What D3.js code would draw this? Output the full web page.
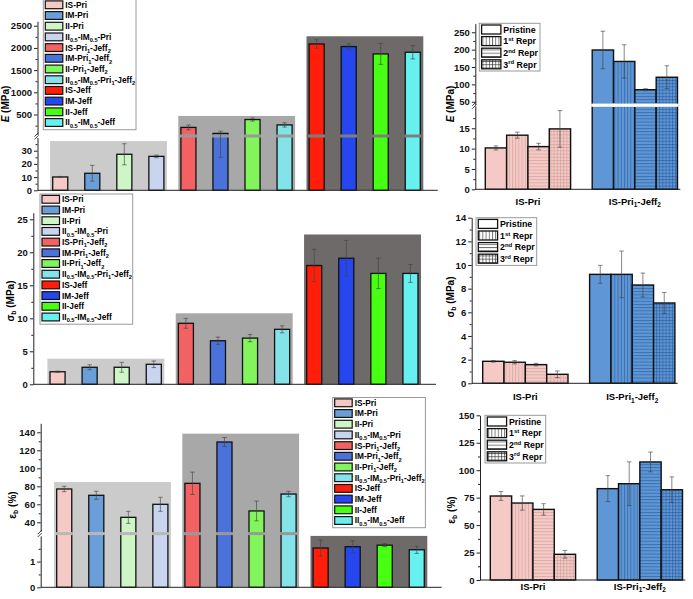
<!DOCTYPE html>
<html>
<head>
<meta charset="utf-8">
<script src="https://cdn.jsdelivr.net/npm/d3@7"></script>
<style>
  body { margin: 0; background: #fff; }
  svg { display: block; font-family: "Liberation Sans", Arial, sans-serif; font-weight: bold; }
  text { white-space: pre; }
</style>
</head>
<body>
<div id="chart"></div>
<script>
/*******************************/
/*            Data             */
/*******************************/
// left panels: 12 samples, in three shaded families of four
const sampleLabels = ["IS-Pri", "IM-Pri", "II-Pri", "II_{0.5}-IM_{0.5}-Pri",
  "IS-Pri_{1}-Jeff_{2}", "IM-Pri_{1}-Jeff_{2}", "II-Pri_{1}-Jeff_{2}", "II_{0.5}-IM_{0.5}-Pri_{1}-Jeff_{2}",
  "IS-Jeff", "IM-Jeff", "II-Jeff", "II_{0.5}-IM_{0.5}-Jeff"];
const sampleColors = ["#f5c9c5", "#6a9ed8", "#cdf5c6", "#c9d5ef",
  "#f26262", "#4a72da", "#82f45c", "#84e3e9",
  "#ff1e0a", "#2646f0", "#46ff12", "#66f0f0"];
const shadeColors = ["#cbcbcb", "#a9a8a8", "#6e6a6a"];
const breakColors = ["#b8b8b8", "#999999", "#7e7e7e"];

const modulus = [10.1, 12.9, 27.3, 25.7, 210, 75, 387, 266, 2090, 2031, 1865, 1903];
const modulusErr = [0.4, 6, 8, 1, 55, 50, 35, 50, 95, 60, 236, 150];
const modulusShade = [37.3, 468, 2263];

const strength = [1.9, 2.58, 2.58, 3.03, 9.24, 6.6, 7.0, 8.33, 18.0, 19.1, 16.8, 16.8];
const strengthErr = [0.1, 0.38, 0.75, 0.5, 0.75, 0.55, 0.55, 0.53, 2.45, 2.7, 2.3, 1.36];
const strengthShade = [3.88, 10.76, 22.7];

const elongation = [77, 70, 45.5, 60, 83.3, 129.2, 52.6, 71.4, 1.53, 1.58, 1.64, 1.46];
const elongationErr = [3, 4.5, 6.7, 7.8, 12.4, 5, 11, 3, 0.31, 0.23, 0.06, 0.14];
const elongationShade = [84.7, 138.5, 2.0];

// right panels: reprocessing cycles
const reprSamples = ["IS-Pri", "IS-Pri_{1}-Jeff_{2}"];
const reprColors = ["#f5c9c5", "#5e96d6"];
const reprLineColors = ["#c99d98", "#2b5a98"];
const reprCycles = ["Pristine", "1^{st} Repr", "2^{nd} Repr", "3^{rd} Repr"];
const cyclePatterns = ["none", "vert", "horiz", "grid"];

const reprModulus = [[10.17, 13.3, 10.5, 14.85], [199, 166, 84.6, 120.5]];
const reprModulusErr = [[0.5, 0.75, 0.8, 4.5], [54, 48, 3, 33]];
const reprStrength = [[1.86, 1.78, 1.58, 0.76], [9.21, 9.21, 8.31, 6.79]];
const reprStrengthErr = [[0.07, 0.14, 0.11, 0.28], [0.76, 1.97, 1.01, 0.89]];
const reprElong = [[76.5, 70.1, 64.3, 23.4], [83.2, 87.7, 107.5, 82.2]];
const reprElongErr = [[4, 6.5, 5.2, 3.5], [11.8, 19.9, 9, 11.7]];


/*******************************/
/*          Helpers            */
/*******************************/
const svg = d3.select("#chart")
  .append("svg")
    .attr("width", 693)
    .attr("height", 599);

svg.append("rect").attr("width", 693).attr("height", 599).attr("fill", "#fff");

// text with _{sub}, ^{sup} and *italic* parts
function rich(sel, label) {
  let shift = 0;
  label.split(/(_\{[^}]*\}|\^\{[^}]*\}|\*[^*]+\*)/).filter(s => s).forEach(s => {
    let txt = s, target = 0, small = false, italic = false;
    if (s.startsWith("_{")) { txt = s.slice(2, -1); target = 2.4; small = true; }
    else if (s.startsWith("^{")) { txt = s.slice(2, -1); target = -3.2; small = true; }
    else if (s.startsWith("*")) { txt = s.slice(1, -1); italic = true; }
    sel.append("tspan")
      .text(txt)
      .attr("dy", target - shift)
      .attr("font-size", small ? "0.68em" : null)
      .attr("font-style", italic ? "italic" : null);
    shift = target;
  });
}

// y scale with a gap between a low and a high segment
function brokenY(lowDom, lowRange, highDom, highRange) {
  const low = d3.scaleLinear().domain(lowDom).range(lowRange);
  const high = d3.scaleLinear().domain(highDom).range(highRange);
  const y = v => {
    if (v <= lowDom[1]) return low(v);
    if (v >= highDom[0]) return high(v);
    const t = (v - lowDom[1]) / (highDom[0] - lowDom[1]);
    return low(lowDom[1]) + t * (high(highDom[0]) - low(lowDom[1]));
  };
  y.lowMax = lowDom[1];
  y.breakMid = (low(lowDom[1]) + high(highDom[0])) / 2;
  y.segments = [low, high];
  return y;
}

function plainY(dom, range) {
  const s = d3.scaleLinear().domain(dom).range(range);
  const y = v => s(v);
  y.segments = [s];
  return y;
}

const tickFmt = d3.format("d");

function drawYAxis(g, y, axisX, major, minor) {
  y.segments.forEach((s, k) => {
    const ax = g.append("g")
      .attr("transform", `translate(${axisX}, 0)`)
      .call(d3.axisLeft(s).tickValues(major[k]).tickFormat(tickFmt)
        .tickSize(3.5).tickSizeOuter(0).tickPadding(2));
    ax.selectAll("text").attr("font-size", 9.5).attr("font-family", null).attr("fill", "#111");
    ax.select(".domain").attr("stroke", "#222");
    ax.selectAll(".tick line").attr("stroke", "#222");
    const mn = g.append("g")
      .attr("transform", `translate(${axisX}, 0)`)
      .call(d3.axisLeft(s).tickValues(minor[k]).tickSize(2).tickFormat(""));
    mn.select(".domain").remove();
    mn.selectAll(".tick line").attr("stroke", "#222");
  });
  if (y.breakMid !== undefined) {
    [-1.4, 1.4].forEach(d => {
      g.append("line")
        .attr("x1", axisX - 3).attr("x2", axisX + 1)
        .attr("y1", y.breakMid + d + 2).attr("y2", y.breakMid + d - 2)
        .attr("stroke", "#222").attr("stroke-width", 0.9);
    });
  }
}

function drawErrors(g, data, y, cap) {
  const eg = g.append("g")
    .attr("stroke", "#444")
    .attr("stroke-opacity", 0.8)
    .attr("stroke-width", 0.8);
  eg.selectAll(".err-v").data(data).join("line")
    .attr("x1", d => d.cx).attr("x2", d => d.cx)
    .attr("y1", d => y(d.v - d.e)).attr("y2", d => y(d.v + d.e));
  [-1, 1].forEach(sgn => {
    eg.selectAll(null).data(data).join("line")
      .attr("x1", d => d.cx - cap / 2).attr("x2", d => d.cx + cap / 2)
      .attr("y1", d => y(d.v + sgn * d.e)).attr("y2", d => y(d.v + sgn * d.e));
  });
}

function yTitle(x, y, label) {
  const t = svg.append("text")
    .attr("transform", `translate(${x}, ${y}) rotate(-90)`)
    .attr("text-anchor", "middle")
    .attr("font-size", 10);
  rich(t, label);
}


/*******************************/
/*          Patterns           */
/*******************************/
const defs = svg.append("defs");
function makePattern(id, fill, stroke, type) {
  const p = defs.append("pattern")
    .attr("id", id)
    .attr("patternUnits", "userSpaceOnUse")
    .attr("width", 3.2).attr("height", 3.2);
  p.append("rect").attr("width", 3.2).attr("height", 3.2).attr("fill", fill);
  if (type === "vert" || type === "grid") {
    p.append("line").attr("x1", 0.5).attr("x2", 0.5).attr("y1", 0).attr("y2", 3.2)
      .attr("stroke", stroke).attr("stroke-width", 0.6);
  }
  if (type === "horiz" || type === "grid") {
    p.append("line").attr("y1", 0.5).attr("y2", 0.5).attr("x1", 0).attr("x2", 3.2)
      .attr("stroke", stroke).attr("stroke-width", 0.6);
  }
}
reprColors.forEach((c, k) => cyclePatterns.forEach(t => makePattern(`p${k}-${t}`, c, reprLineColors[k], t)));
cyclePatterns.forEach(t => makePattern(`pw-${t}`, "#fff", "#222", t));


/*******************************/
/*        Left panels          */
/*******************************/
function drawSamplePanel(p) {
  const g = svg.append("g");
  const x = d3.scaleBand().domain(sampleLabels).range(p.barRange).paddingInner(0.53);
  const bw = x.bandwidth();
  const y = p.y;
  const y0 = y(0);

  // family shading
  g.selectAll(".shade").data(p.shade).join("rect")
    .attr("x", (d, k) => x(sampleLabels[k * 4]) - 2.6)
    .attr("width", (d, k) => x(sampleLabels[k * 4 + 3]) + bw + 3 - (x(sampleLabels[k * 4]) - 2.6))
    .attr("y", d => y(d))
    .attr("height", d => y0 - y(d))
    .attr("fill", (d, k) => shadeColors[k]);

  const data = sampleLabels.map((s, i) => ({s, i, v: p.values[i], e: p.errs[i], cx: x(s) + bw / 2}));

  g.selectAll(".bar").data(data).join("rect")
    .attr("x", d => x(d.s))
    .attr("width", bw)
    .attr("y", d => y(d.v))
    .attr("height", d => y0 - y(d.v))
    .attr("fill", d => sampleColors[d.i])
    .attr("stroke", "#111")
    .attr("stroke-width", 1.3);

  if (y.breakMid !== undefined) {
    g.selectAll(".brk").data(data.filter(d => d.v > y.lowMax)).join("rect")
      .attr("x", d => x(d.s) - 1)
      .attr("width", bw + 2)
      .attr("y", y.breakMid - 1.5)
      .attr("height", 3)
      .attr("fill", d => breakColors[Math.floor(d.i / 4)]);
  }

  drawErrors(g, data, y, 4.5);

  g.append("line")
    .attr("x1", p.axisX).attr("x2", p.axisEnd)
    .attr("y1", y0).attr("y2", y0)
    .attr("stroke", "#222");
  drawYAxis(g, y, p.axisX, p.major, p.minor);
  yTitle(p.titleX, p.titleY, p.title);

  // legend
  const lg = svg.append("g").attr("transform", `translate(${p.legendX}, ${p.legendY})`);
  lg.append("rect")
    .attr("width", 92.7).attr("height", 11 * 10.7 + 12.5)
    .attr("fill", "#fff").attr("stroke", "#9a9a9a").attr("stroke-width", 1);
  const items = lg.selectAll(".item").data(sampleLabels).join("g")
    .attr("transform", (d, i) => `translate(0, ${5.2 + i * 10.7})`);
  items.append("rect")
    .attr("x", 2).attr("y", -3.8).attr("width", 17.5).attr("height", 7.8)
    .attr("fill", (d, i) => sampleColors[i])
    .attr("stroke", "#111").attr("stroke-width", 1.2);
  items.append("text")
    .attr("x", 22).attr("y", 3)
    .attr("font-size", 8.3)
    .each(function(d) { rich(d3.select(this), d); });
}

drawSamplePanel({
  values: modulus, errs: modulusErr, shade: modulusShade,
  y: brokenY([0, 40], [190.3, 137.5], [50, 2600], [134.5, 21.3]),
  major: [[0, 10, 20, 30], [500, 1000, 1500, 2000, 2500]],
  minor: [[5, 15, 25, 35], [250, 750, 1250, 1750, 2250]],
  barRange: [52.7, 420.3], axisX: 37.5, axisEnd: 437.7,
  legendX: 43.3, legendY: -0.5,
  title: "*E* (MPa)", titleX: 9, titleY: 104
});

drawSamplePanel({
  values: strength, errs: strengthErr, shade: strengthShade,
  y: plainY([0, 26], [384.3, 212.7]),
  major: [[0, 5, 10, 15, 20, 25]],
  minor: [[2.5, 7.5, 12.5, 17.5, 22.5]],
  barRange: [50, 418], axisX: 33.3, axisEnd: 436,
  legendX: 40, legendY: 194,
  title: "σ_{b} (MPa)", titleX: 13.5, titleY: 301
});

drawSamplePanel({
  values: elongation, errs: elongationErr, shade: elongationShade,
  y: brokenY([0, 2], [587.3, 535.9], [30, 150], [531.3, 423.3]),
  major: [[0, 1], [40, 60, 80, 100, 120, 140]],
  minor: [[0.5, 1.5], [50, 70, 90, 110, 130]],
  barRange: [56.7, 424.3], axisX: 40.7, axisEnd: 441.7,
  legendX: 332.7, legendY: 397.5,
  title: "ε_{b} (%)", titleX: 15.5, titleY: 505
});


/*******************************/
/*        Right panels         */
/*******************************/
function drawReprPanel(p) {
  const g = svg.append("g");
  const xo = d3.scaleBand().domain(reprSamples).range([p.barsStart, p.barsStart + 192.2]).paddingInner(0.2021);
  const xi = d3.scaleBand().domain(reprCycles).range([0, xo.bandwidth()]);
  const bw = xi.bandwidth();
  const y = p.y;
  const y0 = y(0);

  const data = [];
  reprSamples.forEach((s, k) => reprCycles.forEach((c, j) => {
    data.push({k, j, x: xo(s) + xi(c), cx: xo(s) + xi(c) + bw / 2, v: p.values[k][j], e: p.errs[k][j]});
  }));

  g.selectAll(".bar").data(data).join("rect")
    .attr("x", d => d.x)
    .attr("width", bw)
    .attr("y", d => y(d.v))
    .attr("height", d => y0 - y(d.v))
    .attr("fill", d => `url(#p${d.k}-${cyclePatterns[d.j]})`)
    .attr("stroke", "#111")
    .attr("stroke-width", 1.4);

  if (y.breakMid !== undefined) {
    g.selectAll(".brk").data(data.filter(d => d.v > y.lowMax)).join("rect")
      .attr("x", d => d.x - 1)
      .attr("width", bw + 2)
      .attr("y", y.breakMid - 1.6)
      .attr("height", 3.2)
      .attr("fill", "#fff");
  }

  drawErrors(g, data, y, 4.5);

  g.append("line")
    .attr("x1", p.axisX).attr("x2", p.barsStart + 195)
    .attr("y1", y0).attr("y2", y0)
    .attr("stroke", "#222");
  drawYAxis(g, y, p.axisX, p.major, p.minor);

  g.selectAll(".xlab").data(reprSamples).join("text")
    .attr("x", d => xo(d) + xo.bandwidth() / 2)
    .attr("y", y0 + p.labelDy)
    .attr("text-anchor", "middle")
    .attr("font-size", 9.5)
    .each(function(d) { rich(d3.select(this), d); });

  yTitle(p.titleX, p.titleY, p.title);

  // legend
  const lg = svg.append("g").attr("transform", `translate(${p.legendX}, ${p.legendY})`);
  lg.append("rect")
    .attr("width", 60.7).attr("height", 47.7)
    .attr("fill", "#fff").attr("stroke", "#9a9a9a").attr("stroke-width", 1);
  const items = lg.selectAll(".item").data(reprCycles).join("g")
    .attr("transform", (d, i) => `translate(0, ${6.2 + i * 11.6})`);
  items.append("rect")
    .attr("x", 2.3).attr("y", -4.5).attr("width", 19.3).attr("height", 9)
    .attr("fill", (d, i) => `url(#pw-${cyclePatterns[i]})`)
    .attr("stroke", "#111").attr("stroke-width", 1.3);
  items.append("text")
    .attr("x", 24).attr("y", 3.3)
    .attr("font-size", 8.8)
    .each(function(d) { rich(d3.select(this), d); });
}

drawReprPanel({
  values: reprModulus, errs: reprModulusErr,
  y: brokenY([0, 20.5], [189.3, 105.9], [42, 275], [104.5, 23.6]),
  major: [[0, 5, 10, 15], [50, 100, 150, 200, 250]],
  minor: [[2.5, 7.5, 12.5, 17.5], [75, 125, 175, 225]],
  axisX: 475.3, barsStart: 485.3, labelDy: 15.5,
  legendX: 479.3, legendY: 23.3,
  title: "*E* (MPa)", titleX: 454, titleY: 104
});

drawReprPanel({
  values: reprStrength, errs: reprStrengthErr,
  y: plainY([0, 14], [383.3, 217.7]),
  major: [[0, 2, 4, 6, 8, 10, 12, 14]],
  minor: [[1, 3, 5, 7, 9, 11, 13]],
  axisX: 471.7, barsStart: 482.7, labelDy: 17,
  legendX: 476, legendY: 217.7,
  title: "σ_{b} (MPa)", titleX: 453.5, titleY: 297
});

drawReprPanel({
  values: reprElong, errs: reprElongErr,
  y: plainY([0, 150], [580, 415.3]),
  major: [[0, 25, 50, 75, 100, 125, 150]],
  minor: [[12.5, 37.5, 62.5, 87.5, 112.5, 137.5]],
  axisX: 480, barsStart: 490.3, labelDy: 9.5,
  legendX: 485, legendY: 415.3,
  title: "ε_{b} (%)", titleX: 455, titleY: 510
});
</script>
</body>
</html>
